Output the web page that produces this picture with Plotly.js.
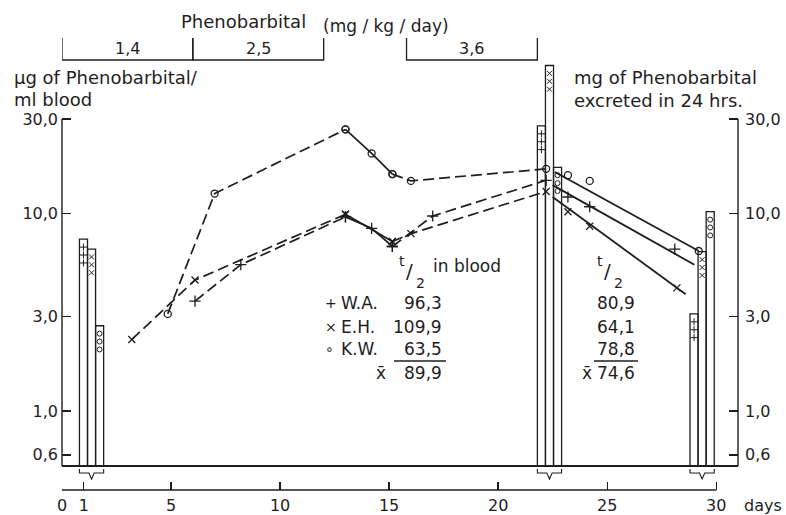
<!DOCTYPE html>
<html><head><meta charset="utf-8">
<script src="https://cdn.plot.ly/plotly-3.0.1.min.js"></script>
<style>html,body{margin:0;padding:0;background:#fff}</style>
</head><body><div id="chart" style="width:786px;height:515px"></div>
<script>
// ---------------- data ----------------
const dayTicks = [0, 1, 5, 10, 15, 20, 25, 30];
const dayTickText = ['0', '1', '5', '10', '15', '20', '25', '30'];
const levelTicks = [0.6, 1, 3, 10, 30];
const levelTickText = ['0,6', '1,0', '3,0', '10,0', '30,0'];

const doseStart = [0, 6, 15.8];
const doseEnd = [6, 12, 21.8];
const doseLabels = ['1,4', '2,5', '3,6'];

// blood levels (µg / ml)
const waDays = [6.1, 8.2, 13.0, 14.2, 15.15, 17.0, 22.2];
const waVals = [3.6, 5.5, 9.6, 8.4, 6.8, 9.7, 14.7];
const ehDays = [3.2, 6.1, 13.0, 15.15, 16.0, 22.2];
const ehVals = [2.3, 4.6, 9.9, 7.2, 7.9, 12.9];
const kwDays = [4.85, 7.0, 13.0, 14.2, 15.15, 16.0, 22.2];
const kwVals = [3.1, 12.6, 26.6, 20.1, 15.8, 14.6, 16.8];

// levels after the last dose
const waPostDays = [23.2, 24.2, 28.1];
const waPostVals = [12.1, 10.8, 6.6];
const ehPostDays = [23.2, 24.2, 28.2];
const ehPostVals = [10.2, 8.6, 4.2];
const kwPostDays = [23.2, 24.2, 29.2];
const kwPostVals = [15.6, 14.6, 6.45];

// fitted elimination lines
const waFitDays = [22.5, 29.0];
const waFitVals = [13.9, 5.5];
const ehFitDays = [22.5, 28.6];
const ehFitVals = [12.1, 3.9];
const kwFitDays = [22.6, 29.2];
const kwFitVals = [16.2, 6.45];

// excretion in 24 hrs (mg)
const excDays = [1, 22, 29];
const waExc = [7.4, 27.7, 3.1];
const ehExc = [6.6, 56, 6.4];
const kwExc = [2.7, 17.1, 10.2];

// half-life table
const subjects = ['W.A.', 'E.H.', 'K.W.'];
const subjSymbols = ['+', '×', '∘'];
const halfBlood = ['96,3', '109,9', '63,5'];
const halfBloodMean = '89,9';
const halfExc = ['80,9', '64,1', '78,8'];
const halfExcMean = '74,6';

// ---------------- layout helpers ----------------
const L = 62, R = 738, T = 60, B = 490, plotBottom = 466;
const px = x => (x - L) / (R - L);
const py = y => (B - y) / (B - T);
const yBottom = 0.527, yTopLog = 1.776;
const ink = '#1e1e1e';
const FONT = 'DejaVu Sans';

const solidFrom = 13.0, solidTo = 15.15;
function pick(days, vals, lo, hi) {
  const d = [], v = [];
  days.forEach((x, i) => { if (x >= lo - 1e-9 && x <= hi + 1e-9) { d.push(x); v.push(vals[i]); } });
  return [d, v];
}

const sym = { wa: 'cross-thin-open', eh: 'x-thin-open', kw: 'circle-open' };
const msize = { wa: 8, eh: 7, kw: 7 };
const traces = [];

// bars (right axis)
const barW = 0.37, barOff = [-0.2, 0.17, 0.54];
const excSets = [['wa', waExc], ['eh', ehExc], ['kw', kwExc]];
excSets.forEach(([k, vals], i) => {
  traces.push({
    type: 'bar', x: excDays, y: vals, yaxis: 'y2', width: barW, offset: barOff[i],
    marker: { color: 'rgba(255,255,255,0)', line: { color: ink, width: 1.3 } },
    hoverinfo: 'skip'
  });
});
// symbols inside bars
excSets.forEach(([k, vals], i) => {
  const xs = [], ys = [];
  excDays.forEach((d, j) => {
    [1, 2, 3].forEach(s => { xs.push(d + barOff[i] + barW / 2); ys.push(vals[j] / Math.pow(10, 0.04 * s)); });
  });
  traces.push({
    type: 'scatter', mode: 'markers', x: xs, y: ys, yaxis: 'y2',
    marker: { symbol: sym[k], size: 5, color: ink, line: { color: ink, width: 1 } }, hoverinfo: 'skip'
  });
});

function addSeries(k, days, vals, postD, postV, fitD, fitV) {
  const mk = { symbol: sym[k], size: msize[k], color: ink, line: { color: ink, width: 1.3 } };
  const seg = [[-1, solidFrom, 'dash'], [solidFrom, solidTo, 'solid'], [solidTo, 99, 'dash']];
  seg.forEach(([lo, hi, dash]) => {
    const [d, v] = pick(days, vals, lo, hi);
    traces.push({ type: 'scatter', mode: 'lines+markers', x: d, y: v,
      line: { color: ink, width: 1.7, dash: dash === 'dash' ? '11px,5px' : 'solid' }, marker: mk, hoverinfo: 'skip' });
  });
  traces.push({ type: 'scatter', mode: 'lines', x: fitD, y: fitV, line: { color: ink, width: 1.8 }, hoverinfo: 'skip' });
  traces.push({ type: 'scatter', mode: 'markers', x: postD, y: postV, marker: mk, hoverinfo: 'skip' });
}
addSeries('wa', waDays, waVals, waPostDays, waPostVals, waFitDays, waFitVals);
addSeries('eh', ehDays, ehVals, ehPostDays, ehPostVals, ehFitDays, ehFitVals);
addSeries('kw', kwDays, kwVals, kwPostDays, kwPostVals, kwFitDays, kwFitVals);

// ---------------- shapes ----------------
const shapes = [];
const ln = { color: ink, width: 1.4 };
// axis lines
shapes.push({ type: 'line', xref: 'paper', yref: 'y', x0: 0, x1: 0, y0: yBottom, y1: 30, line: ln });
shapes.push({ type: 'line', xref: 'paper', yref: 'y', x0: 1, x1: 1, y0: yBottom, y1: 30, line: ln });
shapes.push({ type: 'line', xref: 'paper', yref: 'y domain', x0: 0, x1: 1, y0: 0, y1: 0, line: { color: ink, width: 1.8 } });
shapes.push({ type: 'line', xref: 'x', yref: 'paper', x0: dayTicks[0], x1: dayTicks[dayTicks.length - 1], y0: 0, y1: 0, line: ln });
// dose brackets
doseStart.forEach((s, i) => {
  const e = doseEnd[i], ya = py(38), yb = py(60);
  shapes.push({ type: 'path', xref: 'x', yref: 'paper',
    path: `M ${s},${ya} L ${s},${yb} L ${e},${yb} L ${e},${ya}`, line: { color: ink, width: 1.3 } });
});
// braces under bar groups
excDays.forEach(d => {
  const xl = d + barOff[0], xr = d + barOff[2] + barW, xm = (xl + xr) / 2;
  const ya = py(469), yb = py(473), yc = py(479);
  shapes.push({ type: 'path', xref: 'x', yref: 'paper',
    path: `M ${xl},${ya} L ${xl},${yb} L ${xm - 0.12},${yb} L ${xm},${yc} L ${xm + 0.12},${yb} L ${xr},${yb} L ${xr},${ya}`,
    line: { color: ink, width: 1.1 } });
});
// underlines in table
shapes.push({ type: 'line', xref: 'paper', yref: 'paper', x0: px(394), x1: px(446), y0: py(361), y1: py(361), line: { color: ink, width: 1.6 } });
shapes.push({ type: 'line', xref: 'paper', yref: 'paper', x0: px(594), x1: px(638), y0: py(361), y1: py(361), line: { color: ink, width: 1.6 } });

// ---------------- annotations ----------------
const annotations = [];
function ann(text, x, y, opt) {
  annotations.push(Object.assign({ text, x: px(x), y: py(y), xref: 'paper', yref: 'paper', showarrow: false,
    xanchor: 'left', yanchor: 'middle', font: { family: FONT, size: 17, color: ink } }, opt || {}));
}
ann('Phenobarbital', 243, 22, { xanchor: 'center', font: { family: FONT, size: 18, color: ink } });
ann('(mg / kg / day)', 321, 26);
doseLabels.forEach((t, i) => {
  annotations.push({ text: t, x: (doseStart[i] + doseEnd[i]) / 2, y: py(48), xref: 'x', yref: 'paper',
    showarrow: false, xanchor: 'center', yanchor: 'middle', font: { family: FONT, size: 16, color: ink } });
});
ann('µg of Phenobarbital/', 12, 77, { font: { family: FONT, size: 18, color: ink } });
ann('ml blood', 12, 99, { font: { family: FONT, size: 18, color: ink } });
ann('mg of Phenobarbital', 572, 77, { font: { family: FONT, size: 18, color: ink } });
ann('excreted in 24 hrs.', 572, 100, { font: { family: FONT, size: 18, color: ink } });
ann('days', 742, 505, { font: { family: FONT, size: 16, color: ink } });

// t1/2 table
ann('t', 397, 261, { font: { family: FONT, size: 14, color: ink } });
ann('/', 404, 271, { font: { family: FONT, size: 20, color: ink } });
ann('2', 414, 283, { font: { family: FONT, size: 14, color: ink } });
ann('in blood', 431, 266);
ann('t', 595, 261, { font: { family: FONT, size: 14, color: ink } });
ann('/', 602, 271, { font: { family: FONT, size: 20, color: ink } });
ann('2', 612, 283, { font: { family: FONT, size: 14, color: ink } });
const rowY = [303, 327, 349];
subjects.forEach((s, i) => {
  ann(subjSymbols[i], 323, rowY[i], { font: { family: FONT, size: 14, color: ink } });
  ann(s, 339, rowY[i]);
  ann(halfBlood[i], 444, rowY[i], { xanchor: 'right' });
  ann(halfExc[i], 637, rowY[i], { xanchor: 'right' });
});
ann('x̄', 374, 373, { font: { family: FONT, size: 17, color: ink } });
ann(halfBloodMean, 444, 373, { xanchor: 'right' });
ann('x̄', 580, 373, { font: { family: FONT, size: 17, color: ink } });
ann(halfExcMean, 637, 373, { xanchor: 'right' });

const yAxisBase = {
  type: 'log', range: [Math.log10(yBottom), yTopLog], domain: [(B - plotBottom) / (B - T), 1],
  tickvals: levelTicks, ticktext: levelTickText, ticks: 'inside', ticklen: 9, tickwidth: 1.3, tickcolor: ink,
  showline: false, showgrid: false, zeroline: false, tickfont: { family: FONT, size: 16, color: ink },
  ticklabelstandoff: 3, fixedrange: true
};

const layout = {
  width: 786, height: 515, margin: { l: L, r: 786 - R, t: T, b: 515 - B },
  paper_bgcolor: '#ffffff', plot_bgcolor: '#ffffff', showlegend: false, barmode: 'overlay',
  font: { family: FONT, size: 16, color: ink },
  xaxis: { range: [0, 31], anchor: 'free', position: 0, tickvals: dayTicks, ticktext: dayTickText,
    ticks: 'inside', ticklen: 8, tickwidth: 1.3, tickcolor: ink, showline: false, showgrid: false, zeroline: false,
    tickfont: { family: FONT, size: 16, color: ink }, ticklabelstandoff: 4, fixedrange: true },
  yaxis: Object.assign({}, yAxisBase, { side: 'left' }),
  yaxis2: Object.assign({}, yAxisBase, { side: 'right', overlaying: 'y', anchor: 'x', ticklabelstandoff: 6 }),
  shapes, annotations
};

Plotly.newPlot('chart', traces, layout, { staticPlot: true, displayModeBar: false });
</script>
</body></html>
